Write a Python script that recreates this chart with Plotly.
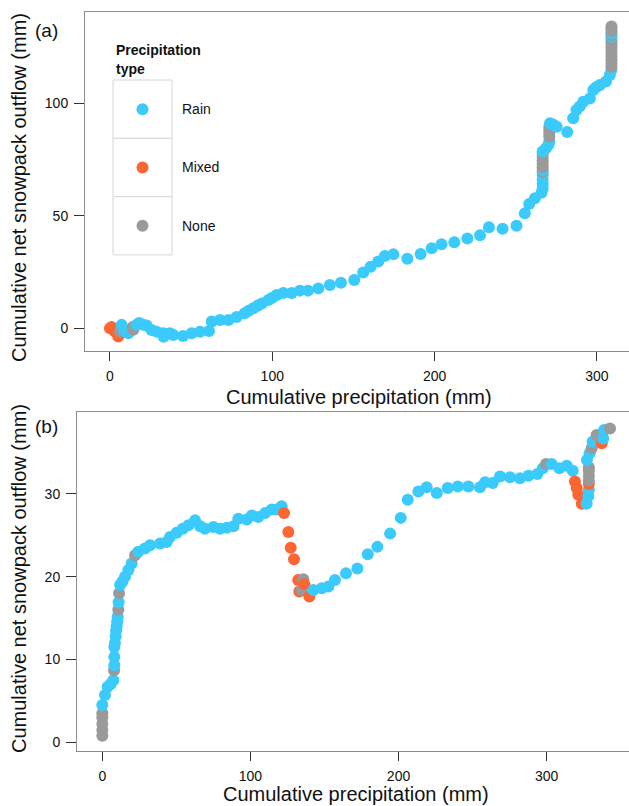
import plotly.graph_objects as go

# ---------------- data ----------------
a_x = [0, 1, 3, 5.1, 6.2, 7.2, 9, 11.3, 14.4, 14, 16.4, 18, 20.5, 22.6, 25.6, 28.7, 32.8, 33, 36.9, 39,
       45, 50.3, 55.5, 61, 62.7, 67.8, 73, 78, 83, 85.5, 88.3, 91, 93.5, 97.6, 100, 102.7, 106.8, 112, 117, 122,
       128.4, 135.5, 142.3, 150.5, 156, 160.6, 165.3, 169.4, 174.6, 183.2, 191.4, 198.2, 204.3, 212.2, 220.2,
       228, 233.5, 241.9, 250.5, 255.6, 258.3, 261.8, 265.9,
       266.6, 266.6, 266.6, 266.6, 266.6, 266.6, 266.6, 266.6, 266.6, 266.6, 266.6, 266.6,
       268.6, 270.2, 270.7, 270.7, 270.7, 270.7, 270.7, 271.1, 273, 275.2, 281.7, 285.4, 287.4, 289.5, 291.6,
       295.7, 297.8, 299.5, 301.9, 305.6, 308, 309,
       309, 309, 309, 309, 309, 309, 309, 309, 309, 309, 309, 309, 309, 309, 309]
a_y = [0, 0.5, -1.5, -3.7, -1.5, 1.5, -1, -2.2, -0.7, 0.5, 1.5, 2.3, 1.5, 1.2, -0.8, -1.5, -2.2, -3.8, -2.2, -3,
       -3.4, -2.2, -1.6, -1.2, 3, 3.7, 3.7, 5, 6.7, 7.8, 8.9, 10, 11, 12.5, 13.5, 14.8, 15.6, 15.6, 16.7, 16.7,
       17.7, 19.2, 20.2, 21.4, 24.7, 27.3, 29.6, 32.1, 32.8, 30.9, 33, 35.5, 37.3, 38.2, 39.8,
       41.3, 44.8, 44.2, 45.5, 51, 55.2, 57.7, 60.2,
       62, 64, 66, 68, 69.5, 70.3, 71.5, 73, 74.5, 76, 77.5, 78.5,
       79.9, 81.5, 83, 85, 86.5, 88, 89.5, 91, 90.5, 89.5, 87.1, 93.2, 96.9, 98.5, 100.6,
       102, 105.8, 107, 108, 109.5, 112.4, 114.6,
       116, 117.5, 119, 120.5, 122, 123.5, 125, 126.5, 128, 129.4, 130.2, 131, 132, 133, 134]
a_type = ["Mixed", "Mixed", "Mixed", "Mixed", "None", "Rain", "Rain", "Rain", "None", "None", "Rain", "Rain",
          "Rain", "Rain", "Rain", "Rain", "Rain", "Rain", "Rain", "Rain",
          "Rain", "Rain", "Rain", "Rain", "Rain", "Rain", "Rain", "Rain", "Rain", "Rain", "Rain", "Rain", "Rain",
          "Rain", "Rain", "Rain", "Rain", "Rain", "Rain", "Rain",
          "Rain", "Rain", "Rain", "Rain", "Rain", "Rain", "Rain", "Rain", "Rain", "Rain", "Rain", "Rain", "Rain",
          "Rain", "Rain",
          "Rain", "Rain", "Rain", "Rain", "Rain", "Rain", "Rain", "Rain",
          "Rain", "Rain", "Rain", "Rain", "None", "Rain", "None", "None", "None", "None", "None", "Rain",
          "Rain", "Rain", "Rain", "None", "None", "None", "None", "Rain", "Rain", "Rain", "Rain", "Rain", "Rain",
          "Rain", "Rain",
          "Rain", "Rain", "Rain", "Rain", "Rain", "Rain", "Rain",
          "None", "None", "None", "None", "None", "None", "None", "None", "None", "Rain", "None", "Rain", "None",
          "None", "None"]

b_x = [0, 0, 0, 0, 0, 0, 1.8, 3.6, 5.5, 7.4, 7.9, 8.1, 8.1, 8.1, 8.5, 9, 9.3, 9.7, 10, 10.4, 10.8, 11, 11.3,
       12, 13.5, 15.3, 17.6, 19.8, 22.1, 24.3, 28.8, 32.2, 39, 43.5, 45.7, 50.2, 54.3, 58.1, 62.6, 66, 69.3, 75,
       79.5, 84, 88.5, 91.8, 97.5, 100.9, 105.3, 109.9, 114.4, 117.7, 121.1,
       122.7, 125.6, 127.2, 129.4, 132.3, 133, 134.6, 135.7, 136.4, 139.8,
       142.5, 148.1, 152.6, 157.1, 164.5, 172.2, 179.2, 185.7, 194.3, 201.5, 206.2, 213.4, 219, 225.8, 233.2,
       240, 247.1, 255, 258.4, 263.6, 268.5, 275.3, 282, 287.7, 293.7, 297.4, 299.6, 303.4, 308.6, 313.6, 317.6,
       319.1, 320.3, 321.4, 323.7, 327, 328.1, 328.5, 328.5, 328.5, 328.5, 328.5, 328.5,
       327.2, 329, 330.4, 331, 333.7, 337.2, 338.2, 338.8, 342.8]
b_y = [0.8, 1.5, 2.2, 3, 3.5, 4.5, 5.7, 6.7, 7, 7.5, 8.7, 9.3, 10.3, 11.5, 12, 12.8, 13.5, 14, 14.6, 15.2, 16,
       16.9, 18, 19, 19.4, 20, 20.8, 21.6, 22.6, 23, 23.4, 23.8, 24, 24.2, 24.8, 25.3, 25.8, 26.2, 26.8, 26.1,
       25.8, 26, 25.8, 25.9, 26.1, 27, 26.9, 27.4, 27.2, 27.7, 28.1, 28.1, 28.5,
       27.7, 25.4, 23.5, 22.1, 19.6, 18.2, 18.4, 19.7, 19.1, 17.6,
       18.4, 18.6, 18.8, 19.6, 20.4, 21, 22.7, 23.6, 25.2, 27.1, 29.3, 30.3, 30.8, 30.1, 30.7,
       30.9, 30.9, 30.8, 31.4, 31.3, 32.1, 32, 31.9, 32.2, 32.4, 33.1, 33.6, 33.6, 33.1, 33.4, 32.8,
       31.5, 30.7, 29.9, 28.8, 28.8, 29.7, 30.5, 31.2, 31.6, 32.2, 32.8, 33.2,
       34.1, 34.9, 35.5, 36.3, 37.1, 36.1, 36.7, 37.7, 37.9]
b_type = ["None", "None", "None", "None", "None", "Rain", "Rain", "Rain", "Rain", "Rain", "None", "Rain", "Rain",
          "Rain", "Rain", "Rain", "Rain", "Rain", "Rain", "Rain", "None", "Rain", "None",
          "Rain", "Rain", "Rain", "Rain", "Rain", "None", "Rain", "Rain", "Rain", "Rain", "Rain", "Rain", "Rain",
          "Rain", "Rain", "Rain", "Rain", "Rain", "Rain",
          "Rain", "Rain", "Rain", "Rain", "Rain", "Rain", "Rain", "Rain", "Rain", "Rain", "Rain",
          "Mixed", "Mixed", "Mixed", "Mixed", "Mixed", "Mixed", "None", "None", "Mixed", "Mixed",
          "Rain", "Rain", "Rain", "Rain", "Rain", "Rain", "Rain", "Rain", "Rain", "Rain", "Rain", "Rain", "Rain",
          "Rain", "Rain",
          "Rain", "Rain", "Rain", "Rain", "Rain", "Rain", "Rain", "Rain", "Rain", "Rain", "Rain", "None", "Rain",
          "Rain", "Rain", "Rain",
          "Mixed", "Mixed", "Mixed", "Mixed", "Rain", "Rain", "Rain", "Mixed", "None", "None", "None", "None",
          "Rain", "Rain", "None", "Rain", "None", "Mixed", "Rain", "Rain", "None"]

types = ["Rain", "Mixed", "None"]
colors = {"Rain": "#3ACAFB", "Mixed": "#FC6633", "None": "#9A9A9A"}

a_xticks = [0, 100, 200, 300]
a_yticks = [0, 50, 100]
b_xticks = [0, 100, 200, 300]
b_yticks = [0, 10, 20, 30]

# ---------------- geometry ----------------
W, H = 629, 806
FONT = "Liberation Sans, Arial, Helvetica, sans-serif"
AXC = "#8c8c8c"

def px(x):
    return x / W

def py(y):
    return 1 - y / H

fig = go.Figure()
fig.add_trace(go.Scatter(x=a_x, y=a_y, mode="markers", xaxis="x", yaxis="y", showlegend=False,
                         marker=dict(size=12, color=[colors[t] for t in a_type], line=dict(width=0)),
                         hoverinfo="x+y"))
fig.add_trace(go.Scatter(x=b_x, y=b_y, mode="markers", xaxis="x2", yaxis="y2", showlegend=False,
                         marker=dict(size=12, color=[colors[t] for t in b_type], line=dict(width=0)),
                         hoverinfo="x+y"))

def xax(domain, rng, ticks, anchor):
    return dict(domain=domain, range=rng, tickvals=ticks, ticktext=[str(t) for t in ticks],
                showgrid=False, zeroline=False, showline=True, linecolor=AXC, linewidth=1, mirror=True,
                ticks="outside", ticklen=9, tickwidth=1, tickcolor="#333333", ticklabelstandoff=3,
                tickfont=dict(family=FONT, size=14, color="#111111"), anchor=anchor)

def yax(domain, rng, ticks, anchor):
    return dict(domain=domain, range=rng, tickvals=ticks, ticktext=[str(t) for t in ticks],
                showgrid=False, zeroline=False, showline=True, linecolor=AXC, linewidth=1, mirror=False,
                ticks="outside", ticklen=10, tickwidth=1, tickcolor="#333333", ticklabelstandoff=3,
                tickfont=dict(family=FONT, size=14, color="#111111"), anchor=anchor)

fig.update_layout(
    width=W, height=H, margin=dict(l=0, r=0, t=0, b=0),
    paper_bgcolor="white", plot_bgcolor="white",
    font=dict(family=FONT, color="#111111"),
    xaxis=xax([px(85), 1], [-15.4, 319.8], a_xticks, "y"),
    yaxis=yax([py(351), py(12)], [-10.1, 140.4], a_yticks, "x"),
    xaxis2=xax([px(77), 1], [-17.1, 355.6], b_xticks, "y2"),
    yaxis2=yax([py(751), py(412.3)], [-1.05, 39.85], b_yticks, "x2"),
)

ann = []
def text(x, y, s, size, angle=0, xanchor="center", bold=False):
    ann.append(dict(x=px(x), y=py(y), xref="paper", yref="paper", text=("<b>%s</b>" % s) if bold else s,
                    showarrow=False, textangle=angle, xanchor=xanchor, yanchor="middle",
                    font=dict(family=FONT, size=size, color="#111111")))

text(359, 397, "Cumulative precipitation (mm)", 20)
text(356, 794, "Cumulative precipitation (mm)", 20)
text(19, 188, "Cumulative net snowpack outflow (mm)", 20, angle=-90)
text(19, 579, "Cumulative net snowpack outflow (mm)", 20, angle=-90)
text(33, 31, "(a)", 19, xanchor="left")
text(33, 426, "(b)", 19, xanchor="left")

# legend (drawn manually to match large key boxes)
text(114, 50, "Precipitation", 14, xanchor="left", bold=True)
text(114, 69, "type", 14, xanchor="left", bold=True)
shapes = []
cell_top = 80
cell_h = 58.3
for i, t in enumerate(types):
    y0 = cell_top + i * cell_h
    shapes.append(dict(type="rect", xref="paper", yref="paper", x0=px(113), x1=px(172), y0=py(y0 + cell_h),
                       y1=py(y0), line=dict(color="#d6d6d6", width=1), fillcolor="white", layer="above"))
    cy = y0 + cell_h / 2
    shapes.append(dict(type="circle", xref="paper", yref="paper", x0=px(142.5 - 6), x1=px(142.5 + 6),
                       y0=py(cy + 6), y1=py(cy - 6), line=dict(width=0), fillcolor=colors[t], layer="above"))
    text(180, cy, t, 14, xanchor="left")

fig.update_layout(annotations=ann, shapes=shapes)
fig.write_html("out.html")
